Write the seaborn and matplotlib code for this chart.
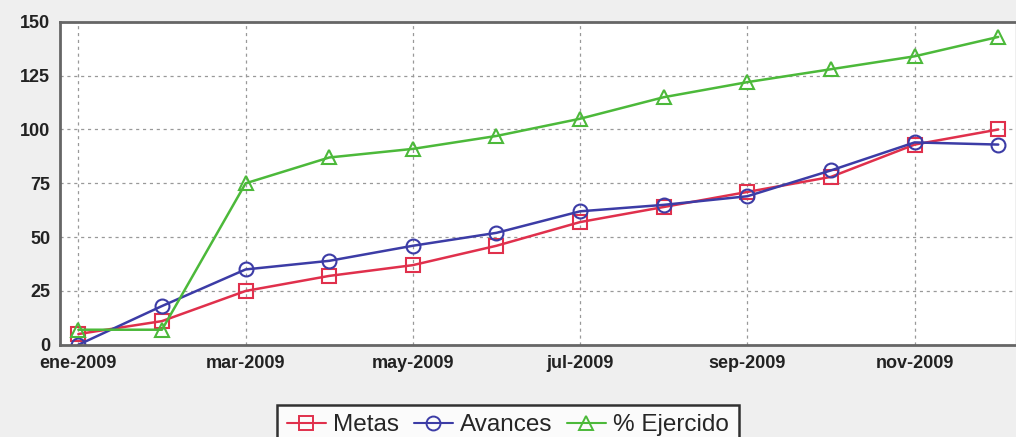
import numpy as np
import pandas as pd
import matplotlib
matplotlib.use("Agg")
import matplotlib.pyplot as plt
import seaborn as sns

# Monthly values, ene-2009 .. dic-2009
months = ["ene-2009", "feb-2009", "mar-2009", "abr-2009", "may-2009", "jun-2009",
          "jul-2009", "ago-2009", "sep-2009", "oct-2009", "nov-2009", "dic-2009"]
metas = [5, 11, 25, 32, 37, 46, 57, 64, 71, 78, 93, 100]
avances = [0, 18, 35, 39, 46, 52, 62, 65, 69, 81, 94, 93]
ejercido = [7, 7, 75, 87, 91, 97, 105, 115, 122, 128, 134, 143]
series_names = ["Metas", "Avances", "% Ejercido"]
y_ticks = [0, 25, 50, 75, 100, 125, 150]

colors = {"Metas": "#e0304c", "Avances": "#3c3ca6", "% Ejercido": "#4cb93a"}
markers = {"Metas": "s", "Avances": "o", "% Ejercido": "^"}

idx = np.arange(len(months))
df = pd.concat([
    pd.DataFrame({"x": idx, "valor": vals, "serie": name})
    for name, vals in zip(series_names, [metas, avances, ejercido])
], ignore_index=True)

sns.set_style("white")
plt.rcParams["font.family"] = ["Liberation Sans", "DejaVu Sans"]

fig = plt.figure(figsize=(10.16, 4.37), dpi=100)
fig.patch.set_facecolor("#efefef")
ax = fig.add_axes([0.059, 0.211, 0.94, 0.739])
ax.set_facecolor("white")

sns.lineplot(data=df, x="x", y="valor", hue="serie", style="serie",
             hue_order=series_names, style_order=series_names,
             palette=colors, markers=markers, dashes=False,
             markersize=10, markeredgewidth=1.5,
             linewidth=1.8, ax=ax, legend=False)

# open markers with coloured edges
for line in ax.get_lines():
    c = line.get_color()
    line.set_markerfacecolor("none")
    line.set_markeredgecolor(c)

ax.set_xlim(-0.22, 11.2)
ax.set_ylim(0, 150)
ax.set_yticks(y_ticks)
ax.set_xticks(idx[::2])
ax.set_xticklabels(months[::2])
ax.set_xlabel("")
ax.set_ylabel("")
ax.tick_params(axis="both", labelsize=13, length=4, width=1, color="#555555", pad=3)
for lab in ax.get_xticklabels() + ax.get_yticklabels():
    lab.set_fontweight("bold")
    lab.set_color("#222222")

ax.grid(True, linestyle=(0, (2.5, 3)), color="#999999", linewidth=0.9)
ax.set_axisbelow(True)
for side in ["left", "bottom", "top"]:
    ax.spines[side].set_visible(True)
    ax.spines[side].set_color("#666666")
    ax.spines[side].set_linewidth(2)
ax.spines["right"].set_visible(False)

handles = [plt.Line2D([], [], color=colors[n], marker=markers[n], markersize=10,
                      markerfacecolor="none", markeredgecolor=colors[n],
                      markeredgewidth=1.4, linewidth=1.5)
           for n in series_names]
leg = fig.legend(handles, series_names, loc="upper center", ncol=3,
                 bbox_to_anchor=(0.5, 0.102), fontsize=17.5, frameon=True,
                 fancybox=False, edgecolor="black", handlelength=1.6,
                 handletextpad=0.3, columnspacing=0.6, borderpad=0.4)
leg.get_frame().set_linewidth(1.8)

fig.savefig("out.png", dpi=100, facecolor=fig.get_facecolor())
